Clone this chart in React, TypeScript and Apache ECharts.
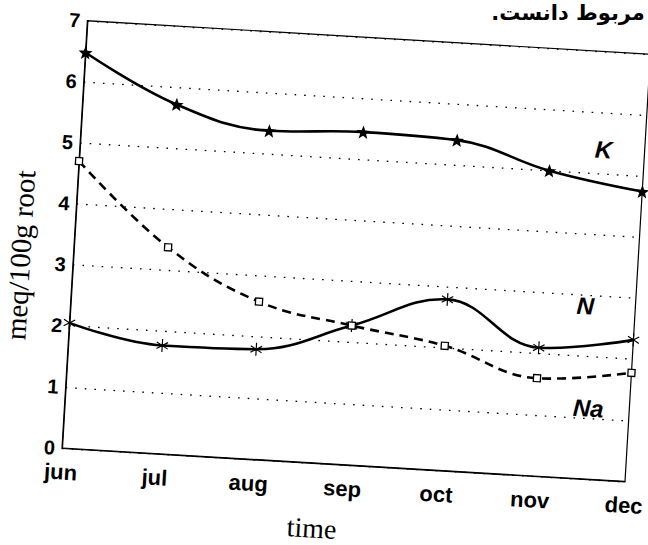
import React, { useEffect, useRef } from 'react';
import * as echarts from 'echarts';

// ---- data ----
const months = ['jun', 'jul', 'aug', 'sep', 'oct', 'nov', 'dec'];
const kValues = [6.48, 5.72, 5.38, 5.45, 5.41, 5.0, 4.75];
const nValues = [2.05, 1.77, 1.8, 2.28, 2.8, 2.1, 2.32];
const naValues = [4.7, 3.38, 2.58, 2.28, 2.04, 1.6, 1.78];
const seriesNames = ['K', 'N', 'Na'];
const yTitle = 'meq/100g root';
const xTitle = 'time';
const topText = 'مربوط دانست.';

// ---- layout (unrotated frame inside the rotated chart div) ----
const THETA_DEG = 3.4;
const THETA = (THETA_DEG * Math.PI) / 180;
const OFF = 30;
const GL = 92;
const GB = 478;
const GW = 564;
const GH = 428;
const GT = GB - GH;

function starPath(): string {
  const pts: string[] = [];
  for (let i = 0; i < 10; i++) {
    const r = i % 2 ? 0.42 : 1;
    const a = -Math.PI / 2 + (i * Math.PI) / 5;
    pts.push(`${(r * Math.cos(a)).toFixed(3)} ${(r * Math.sin(a)).toFixed(3)}`);
  }
  return 'path://M' + pts.join(' L') + ' Z';
}

function asteriskPath(): string {
  const w = 0.09;
  const parts: string[] = [];
  [90, 30, 150].forEach((deg) => {
    const a = (deg * Math.PI) / 180;
    const dx = Math.cos(a), dy = Math.sin(a);
    const nx = -dy, ny = dx;
    const c = [
      [dx + w * nx, dy + w * ny],
      [dx - w * nx, dy - w * ny],
      [-dx - w * nx, -dy - w * ny],
      [-dx + w * nx, -dy + w * ny],
    ];
    parts.push('M' + c.map((p) => `${p[0].toFixed(3)} ${p[1].toFixed(3)}`).join(' L') + ' Z');
  });
  return 'path://' + parts.join(' ');
}

export default function App() {
  const ref = useRef<HTMLDivElement>(null);
  useEffect(() => {
    if (!ref.current) return;
    const chart = echarts.init(ref.current, null, { renderer: 'svg' });
    const sans = 'Liberation Sans, Arial, Helvetica, sans-serif';
    const serif = 'Liberation Serif, Times New Roman, serif';
    const lbl = (text: string, u: number, v: number) => ({
      type: 'text',
      x: GL + u,
      y: GB - v,
      style: {
        text,
        fill: '#000',
        fontSize: 24,
        fontStyle: 'italic',
        fontWeight: 'bold',
        fontFamily: sans,
        align: 'center',
        verticalAlign: 'middle',
      },
    });
    chart.setOption({
      animation: false,
      backgroundColor: '#fff',
      grid: {
        left: GL,
        top: GT,
        width: GW,
        height: GH,
        show: true,
        borderColor: '#000',
        borderWidth: 1.2,
        backgroundColor: 'transparent',
      },
      xAxis: {
        type: 'category',
        data: months,
        boundaryGap: false,
        axisLine: { show: true, lineStyle: { color: '#000', width: 1.2 } },
        axisTick: { show: false },
        axisLabel: {
          interval: 0,
          color: '#000',
          fontSize: 22,
          fontWeight: 'bold',
          fontFamily: sans,
          margin: 13,
        },
        splitLine: { show: false },
      },
      yAxis: {
        type: 'value',
        min: 0,
        max: 7,
        interval: 1,
        axisLine: { show: true, lineStyle: { color: '#000', width: 1.2 } },
        axisTick: { show: false },
        axisLabel: {
          color: '#000',
          fontSize: 20,
          fontWeight: 'bold',
          fontFamily: sans,
          margin: 7,
          padding: [8, 0, 0, 0],
        },
        splitLine: {
          show: true,
          lineStyle: { color: '#000', width: 1.3, type: [1.6, 8] },
        },
      },
      series: [
        {
          name: seriesNames[0],
          type: 'line',
          data: kValues,
          smooth: 0.4,
          symbol: starPath(),
          symbolSize: 14,
          symbolKeepAspect: true,
          lineStyle: { color: '#000', width: 2.6 },
          itemStyle: { color: '#000' },
          z: 3,
        },
        {
          name: seriesNames[1],
          type: 'line',
          data: nValues,
          smooth: 0.4,
          symbol: asteriskPath(),
          symbolSize: 13,
          symbolKeepAspect: true,
          lineStyle: { color: '#000', width: 2.6 },
          itemStyle: { color: '#000' },
          z: 3,
        },
        {
          name: seriesNames[2],
          type: 'line',
          data: naValues,
          smooth: 0.4,
          symbol: 'rect',
          symbolSize: 7,
          lineStyle: { color: '#000', width: 2.6, type: [9, 6] },
          itemStyle: { color: '#fff', borderColor: '#000', borderWidth: 1.3 },
          z: 4,
        },
      ],
      graphic: [
        lbl(seriesNames[0], 523, 330),
        lbl(seriesNames[1], 514, 173),
        lbl(seriesNames[2], 523, 71),
        {
          type: 'text',
          x: GL - 53,
          y: GB - 190,
          rotation: Math.PI / 2,
          style: {
            text: yTitle,
            fill: '#000',
            fontSize: 29,
            fontFamily: serif,
            align: 'center',
            verticalAlign: 'middle',
          },
        },
        {
          type: 'text',
          x: GL + 254,
          y: GB + 65,
          style: {
            text: xTitle,
            fill: '#000',
            fontSize: 28,
            fontFamily: serif,
            align: 'center',
            verticalAlign: 'middle',
          },
        },
        {
          type: 'text',
          x: GL + 556,
          y: GB - 469,
          rotation: THETA,
          style: {
            text: '\u202B' + topText + '\u202C',
            fill: '#000',
            fontSize: 21,
            fontWeight: 'bold',
            fontFamily: 'DejaVu Sans, Noto Sans, sans-serif',
            align: 'right',
            verticalAlign: 'middle',
          },
        },
      ],
    });
    return () => chart.dispose();
  }, []);
  return (
    <div
      style={{
        position: 'fixed',
        left: 0,
        top: 0,
        width: 648,
        height: 545,
        overflow: 'hidden',
        background: '#fff',
      }}
    >
      <div
        ref={ref}
        style={{
          position: 'absolute',
          left: -OFF,
          top: -OFF,
          width: 648 + 2 * OFF,
          height: 545 + 2 * OFF,
          transform: `rotate(${THETA_DEG}deg)`,
          transformOrigin: `${GL}px ${GB}px`,
        }}
      />
    </div>
  );
}
